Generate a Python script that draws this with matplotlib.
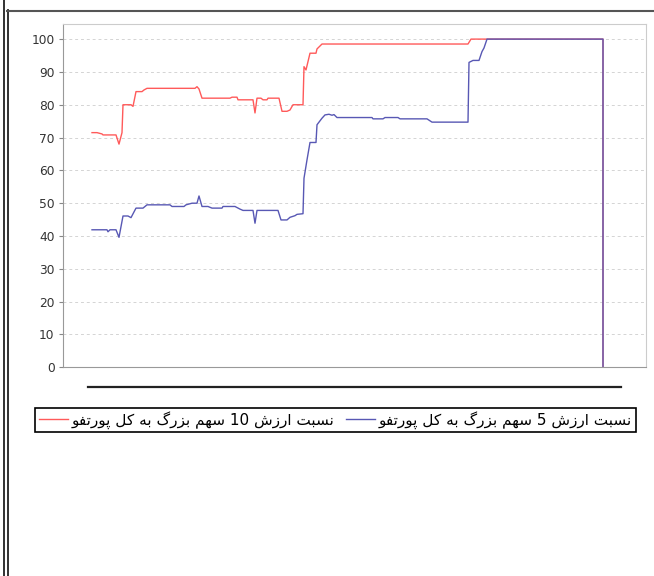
import re

import matplotlib
matplotlib.use('Agg')
import matplotlib.pyplot as plt
from matplotlib.lines import Line2D

# Series (x = trading-day index, y = percent)
top10_days = [0, 5, 10, 11, 24, 27, 30, 31, 39, 41, 44, 50, 52, 55, 103, 105, 107, 110,
              138, 140, 145, 146, 161, 163, 165, 169, 171, 175, 176, 187, 190, 195, 198,
              201, 211, 212, 214, 218, 224, 225, 230, 376, 379, 511, 511]
top10_ratio = [71.5, 71.5, 71.1, 70.8, 70.8, 68.0, 71.5, 80, 80, 79.5, 84, 84, 84.5, 85,
               85, 85.5, 84.8, 82, 82, 82.3, 82.3, 81.5, 81.5, 77.5, 82, 82, 81.5, 81.5,
               82, 82, 78, 78, 78.4, 80, 80, 91.6, 90.6, 95.7, 95.7, 97, 98.5, 98.5, 100,
               100, 0]

top5_days = [0, 15, 16, 18, 24, 27, 31, 36, 39, 44, 51, 55, 78, 80, 92, 94, 100, 105, 107,
             110, 116, 120, 130, 131, 143, 148, 151, 161, 163, 165, 186, 189, 195, 198,
             203, 205, 211, 212, 215, 218, 224, 225, 230, 233, 237, 240, 242, 245, 280,
             281, 291, 293, 306, 308, 335, 340, 376, 377, 381, 387, 390, 392, 395, 511, 511]
top5_ratio = [41.9, 41.9, 41.3, 41.9, 41.9, 39.6, 46.1, 46.1, 45.6, 48.5, 48.5, 49.5, 49.5,
              49, 49, 49.5, 50, 50, 52.2, 49, 49, 48.5, 48.5, 49, 49, 48.2, 47.8, 47.8,
              43.9, 47.8, 47.8, 44.9, 44.9, 45.7, 46.2, 46.6, 46.8, 57.6, 63.2, 68.5, 68.5,
              73.9, 75.9, 76.9, 77.1, 76.8, 77, 76.1, 76.1, 75.7, 75.7, 76.1, 76.1, 75.7,
              75.7, 74.7, 74.7, 92.9, 93.5, 93.5, 96.2, 97.3, 100, 100, 0]

yticks = list(range(0, 101, 10))
label_top10 = 'نسبت ارزش 10 سهم بزرگ به کل پورتفو'
label_top5 = 'نسبت ارزش 5 سهم بزرگ به کل پورتفو'

# matplotlib has no Arabic shaping, so pick the contextual forms by hand
FORMS = {
    'ا': ('\ufe8d', '\ufe8e'),
    'ب': ('\ufe8f', '\ufe90', '\ufe91', '\ufe92'),
    'پ': ('\ufb56', '\ufb57', '\ufb58', '\ufb59'),
    'ت': ('\ufe95', '\ufe96', '\ufe97', '\ufe98'),
    'ر': ('\ufead', '\ufeae'),
    'ز': ('\ufeaf', '\ufeb0'),
    'س': ('\ufeb1', '\ufeb2', '\ufeb3', '\ufeb4'),
    'ش': ('\ufeb5', '\ufeb6', '\ufeb7', '\ufeb8'),
    'ف': ('\ufed1', '\ufed2', '\ufed3', '\ufed4'),
    'ک': ('\ufb8e', '\ufb8f', '\ufb90', '\ufb91'),
    'گ': ('\ufb92', '\ufb93', '\ufb94', '\ufb95'),
    'ل': ('\ufedd', '\ufede', '\ufedf', '\ufee0'),
    'م': ('\ufee1', '\ufee2', '\ufee3', '\ufee4'),
    'ن': ('\ufee5', '\ufee6', '\ufee7', '\ufee8'),
    'ه': ('\ufee9', '\ufeea', '\ufeeb', '\ufeec'),
    'و': ('\ufeed', '\ufeee'),
}


def shape(s):
    out = []
    for i, ch in enumerate(s):
        if ch not in FORMS:
            out.append(ch)
            continue
        f = FORMS[ch]
        prev = s[i - 1] if i > 0 else ''
        nxt = s[i + 1] if i + 1 < len(s) else ''
        join_prev = prev in FORMS and len(FORMS[prev]) == 4
        join_next = nxt in FORMS and len(f) == 4
        if join_prev and join_next:
            out.append(f[3])
        elif join_prev:
            out.append(f[1])
        elif join_next:
            out.append(f[2])
        else:
            out.append(f[0])
    vis = ''.join(out)[::-1]
    return re.sub(r'\d+', lambda m: m.group()[::-1], vis)


W, H = 654, 576
fig = plt.figure(figsize=(W / 100, H / 100), dpi=100)
ax = fig.add_axes([63 / W, 1 - 367.3 / H, 583 / W, 343.3 / H])

red, = ax.plot(top10_days, top10_ratio, color='#ff5a5a', lw=1.0)
blue, = ax.plot(top5_days, top5_ratio, color='#5858b4', lw=1.0)

ax.set_xlim(-29, 554)
ax.set_ylim(0, 104.6)
ax.set_yticks(yticks)
ax.set_xticks([])
ax.yaxis.grid(True, color='#d4d4d4', lw=0.7, linestyle=(0, (3, 3)))
ax.set_axisbelow(True)
ax.tick_params(axis='y', length=3, width=0.8, color='#888888', pad=3,
               labelsize=8.8, labelcolor='#333333')
for side in ['top', 'right']:
    ax.spines[side].set_color('#cccccc')
for side in ['left', 'bottom']:
    ax.spines[side].set_color('#999999')

leg = fig.legend([red, blue], [shape(label_top10), shape(label_top5)], ncol=2,
                 loc='center', bbox_to_anchor=(335.5 / W, 1 - 420 / H),
                 fontsize=10.95, handlelength=1.9, handletextpad=0.25,
                 columnspacing=0.8, borderpad=0.22, fancybox=False,
                 framealpha=1, edgecolor='black')
leg.get_frame().set_linewidth(1.2)

# surrounding window chrome
fig.add_artist(Line2D([88 / W, 621 / W], [1 - 386.5 / H] * 2,
                      transform=fig.transFigure, color='#222222', lw=1.6))
fig.add_artist(Line2D([3.5 / W, 3.5 / W], [0, 1], transform=fig.transFigure,
                      color='#222222', lw=1.3))
fig.add_artist(Line2D([7.5 / W, 7.5 / W], [0, 1 - 10 / H], transform=fig.transFigure,
                      color='#222222', lw=1.3))
fig.add_artist(Line2D([7 / W, 1], [1 - 10.5 / H] * 2, transform=fig.transFigure,
                      color='#555555', lw=1.5))

fig.savefig('out.png', dpi=100)
